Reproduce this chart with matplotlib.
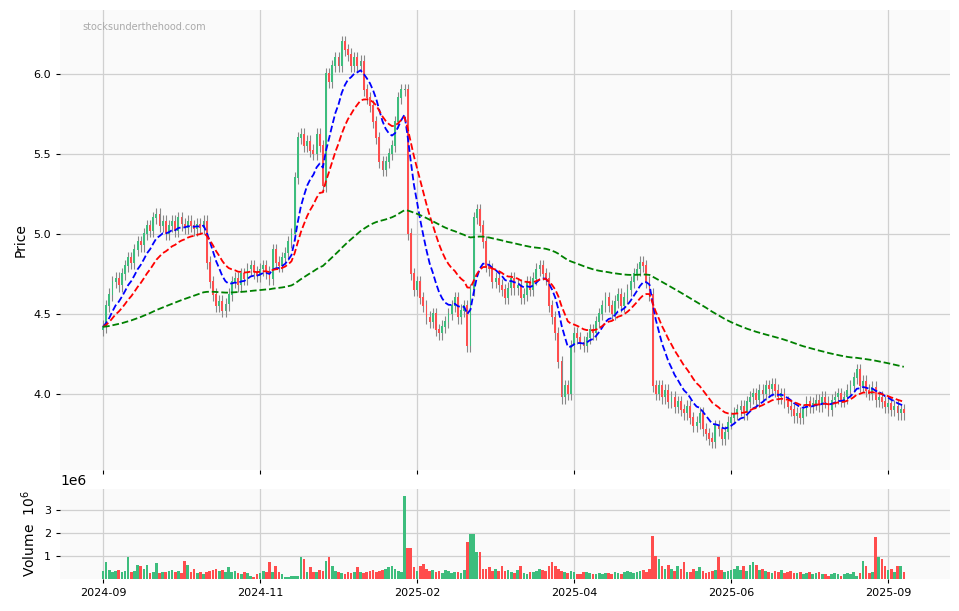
import numpy as np
import pandas as pd
import matplotlib
matplotlib.use("Agg")
import matplotlib.pyplot as plt

closes = [
4.42,4.55,4.62,4.70,4.72,4.68,4.75,4.80,4.85,4.82,
4.90,4.95,4.93,5.00,5.05,5.02,5.10,5.12,5.05,5.08,
5.00,5.05,5.08,5.02,5.10,5.06,5.04,5.08,5.05,5.03,
5.06,5.04,5.08,4.82,4.70,4.62,4.55,4.58,4.52,4.56,
4.62,4.70,4.72,4.68,4.75,4.72,4.78,4.80,4.76,4.74,
4.78,4.80,4.76,4.72,4.90,4.82,4.80,4.85,4.88,4.95,
5.00,5.35,5.60,5.62,5.55,5.58,5.52,5.50,5.62,5.55,
5.30,6.00,5.95,6.05,6.10,6.05,6.20,6.15,6.12,6.05,
6.10,6.05,6.08,5.90,5.85,5.80,5.70,5.60,5.45,5.40,
5.45,5.50,5.55,5.70,5.85,5.90,5.90,5.00,4.75,4.65,
4.70,4.60,4.55,4.48,4.45,4.50,4.40,4.38,4.42,4.45,
4.50,4.55,4.60,4.48,4.52,4.55,4.30,4.65,5.10,5.15,
5.05,4.95,4.80,4.78,4.70,4.72,4.68,4.65,4.60,4.66,
4.72,4.66,4.68,4.60,4.62,4.70,4.65,4.72,4.78,4.80,
4.75,4.72,4.55,4.48,4.38,4.20,3.98,4.05,4.00,4.30,
4.38,4.35,4.32,4.30,4.35,4.40,4.38,4.45,4.50,4.55,
4.60,4.55,4.50,4.58,4.62,4.55,4.60,4.65,4.70,4.75,
4.78,4.82,4.80,4.70,4.62,4.05,4.00,4.05,3.98,4.02,
3.95,3.98,3.92,3.95,3.90,3.88,3.92,3.85,3.80,3.82,
3.88,3.78,3.75,3.72,3.70,3.80,3.78,3.72,3.76,3.82,
3.85,3.88,3.90,3.92,3.88,3.95,3.98,4.00,3.96,4.02,
4.00,4.05,4.03,4.06,4.02,3.98,4.00,3.95,3.92,3.90,
3.86,3.88,3.85,3.90,3.95,3.92,3.94,3.96,3.93,3.98,
3.95,3.90,3.96,3.98,4.00,3.96,3.98,4.02,4.05,4.10,
4.15,4.05,4.08,4.02,4.00,4.04,3.96,3.98,3.95,3.92,
3.94,3.90,3.92,3.88,3.90,3.88]
first_open = 4.40

volumes_m = [
0.35,0.75,0.40,0.30,0.35,0.40,0.30,0.35,0.95,0.30,
0.35,0.60,0.55,0.45,0.60,0.25,0.30,0.70,0.25,0.30,
0.30,0.35,0.40,0.30,0.35,0.25,0.80,0.60,0.30,0.45,
0.25,0.30,0.20,0.30,0.35,0.40,0.45,0.35,0.40,0.30,
0.50,0.30,0.35,0.25,0.20,0.30,0.25,0.15,0.10,0.20,
0.25,0.35,0.30,0.75,0.30,0.55,0.30,0.20,0.10,0.10,
0.15,0.15,0.15,0.95,0.85,0.30,0.50,0.30,0.30,0.40,
0.35,0.80,0.95,0.55,0.35,0.30,0.25,0.20,0.30,0.25,
0.30,0.50,0.30,0.25,0.30,0.35,0.40,0.30,0.35,0.40,
0.45,0.50,0.55,0.45,0.35,0.30,3.60,1.35,1.35,0.50,
0.35,0.55,0.65,0.45,0.35,0.40,0.30,0.35,0.25,0.40,
0.35,0.25,0.30,0.30,0.25,0.40,1.60,1.95,1.95,1.15,
1.15,0.45,0.45,0.50,0.35,0.45,0.35,0.55,0.35,0.40,
0.30,0.25,0.40,0.55,0.25,0.20,0.30,0.30,0.35,0.45,
0.40,0.35,0.55,0.75,0.55,0.45,0.35,0.30,0.25,0.35,
0.30,0.20,0.20,0.30,0.30,0.25,0.20,0.20,0.25,0.20,
0.25,0.25,0.20,0.30,0.25,0.20,0.30,0.35,0.30,0.25,
0.30,0.35,0.40,0.30,0.45,1.85,1.00,0.85,0.55,0.45,
0.60,0.45,0.35,0.55,0.45,0.75,0.30,0.30,0.45,0.35,
0.50,0.35,0.25,0.30,0.35,0.40,0.95,0.40,0.30,0.35,
0.40,0.45,0.55,0.40,0.55,0.35,0.60,0.75,0.60,0.40,
0.45,0.35,0.30,0.25,0.35,0.30,0.40,0.25,0.30,0.35,
0.25,0.25,0.30,0.20,0.25,0.30,0.20,0.25,0.30,0.20,
0.20,0.15,0.20,0.25,0.20,0.15,0.20,0.25,0.20,0.30,
0.15,0.25,0.80,0.55,0.25,0.30,1.80,0.95,0.85,0.55,
0.40,0.45,0.30,0.55,0.55,0.30]

tick_idx = [0, 50, 100, 150, 200, 250]
tick_labels = ["2024-09", "2024-11", "2025-02", "2025-04", "2025-06", "2025-09"]

c = np.array(closes)
o = np.concatenate([[first_open], c[:-1]])
wick = 0.04
h = np.maximum(o, c) + wick
l = np.minimum(o, c) - wick
v = np.array(volumes_m) * 1e6
n = len(c)
x = np.arange(n)
s = pd.Series(c)
ma10 = s.ewm(span=10, adjust=False).mean()
ma20 = s.ewm(span=20, adjust=False).mean()
ma_long = s.ewm(span=128, adjust=False).mean()

UP = "#3dbd7d"
DN = "#ff4d4d"
cols = np.where(c >= o, UP, DN)

fig = plt.figure(figsize=(9.59, 6.11), dpi=100)
fig.patch.set_facecolor("white")
W, H = 959, 611
ax = fig.add_axes([60 / W, 1 - 470 / H, 890 / W, 460 / H])
axv = fig.add_axes([60 / W, 1 - 579 / H, 890 / W, 90 / H], sharex=ax)

for a in (ax, axv):
    a.set_facecolor("#fafafa")
    a.grid(True, color="#d0d0d0", linewidth=0.9)
    a.set_axisbelow(True)
    for sp in a.spines.values():
        sp.set_visible(False)
    a.tick_params(labelsize=8, length=3, color="black")

ax.vlines(x, l, h, color="#888888", linewidth=0.8, zorder=2)
ax.bar(x, np.abs(c - o) + 0.004, bottom=np.minimum(o, c), width=0.6, color=cols, zorder=3)
ax.plot(x, ma10, "--", color="blue", linewidth=1.3, zorder=4)
ax.plot(x, ma20, "--", color="red", linewidth=1.3, zorder=4)
ax.plot(x, ma_long, "--", color="green", linewidth=1.3, zorder=4)
ax.set_ylim(3.525, 6.4)
ax.set_yticks([4.0, 4.5, 5.0, 5.5, 6.0])
ax.set_ylabel("Price", fontsize=10)
ax.text(0.025, 0.975, "stocksunderthehood.com", transform=ax.transAxes, fontsize=7,
        color="#aaaaaa", va="top")
ax.tick_params(labelbottom=False)

axv.bar(x, v, width=0.85, color=cols)
axv.set_ylim(0, 3.9e6)
axv.set_yticks([1e6, 2e6, 3e6])
axv.set_ylabel("Volume  $10^{6}$", fontsize=10)
axv.set_xlim(-13.7, 269.7)
axv.set_xticks(tick_idx)
axv.set_xticklabels(tick_labels)

fig.savefig("out.png", dpi=100)
